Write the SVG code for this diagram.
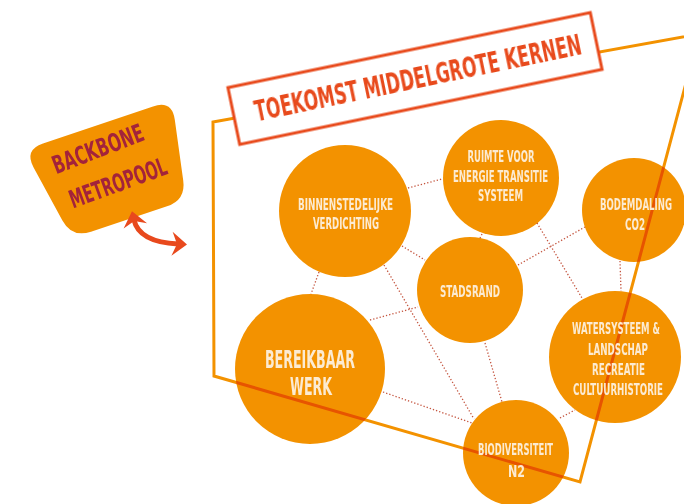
<svg xmlns="http://www.w3.org/2000/svg" width="684" height="504" viewBox="0 0 684 504">
<defs>
<style>
.node circle{fill:#f39200;mix-blend-mode:multiply}
.nt{font-family:"Liberation Sans Narrow","DejaVu Sans Condensed","Liberation Sans",sans-serif;font-weight:bold;fill:#fcebd2;text-anchor:middle}
.s{font-size:16px}
.l{font-size:24px}
.con line{stroke:#c4553f;stroke-width:1.3;stroke-dasharray:1.3 2}
.frame{fill:none;stroke:#f39200;stroke-width:3;stroke-linejoin:miter}
.title{font-family:"Liberation Sans Narrow","DejaVu Sans Condensed","Liberation Sans",sans-serif;font-weight:bold;font-size:28px;fill:#e84a1c;text-anchor:middle}
.bb{font-family:"Liberation Sans Narrow","DejaVu Sans Condensed","Liberation Sans",sans-serif;font-weight:bold;font-size:25px;fill:#a3233b;text-anchor:middle}
</style>
<marker id="ah" markerUnits="userSpaceOnUse" markerWidth="24" markerHeight="26" viewBox="-8 -13 20 26" refX="0" refY="0" orient="auto-start-reverse">
<path d="M9,0 L-6,-12 L-1,0 L-6,12 Z" fill="#e8491d"/>
</marker>
</defs>
<rect width="684" height="504" fill="#ffffff"/>

<path id="frame" class="frame" d="M213,122 L699,34 L580,482 L214,376 Z"/>

<g id="connectors" class="con">
<line x1="408" y1="188" x2="442" y2="179"/>
<line x1="402" y1="246" x2="425" y2="260"/>
<line x1="319" y1="272" x2="311" y2="294"/>
<line x1="384" y1="265" x2="474" y2="419"/>
<line x1="482" y1="234" x2="480" y2="238"/>
<line x1="537" y1="223" x2="582" y2="298"/>
<line x1="518" y1="265" x2="585" y2="227"/>
<line x1="370" y1="320" x2="418" y2="307"/>
<line x1="485" y1="343" x2="502" y2="402"/>
<line x1="620" y1="261" x2="621" y2="291"/>
<line x1="383" y1="392" x2="472" y2="423"/>
<line x1="560" y1="418" x2="575" y2="410"/>
</g>

<g id="binnenstedelijke" class="node">
<circle cx="345" cy="211" r="66"/>
<text class="nt s" x="345.5" y="210" textLength="95" lengthAdjust="spacingAndGlyphs">BINNENSTEDELIJKE</text>
<text class="nt s" x="346" y="229" textLength="66" lengthAdjust="spacingAndGlyphs">VERDICHTING</text>
</g>
<g id="ruimte" class="node">
<circle cx="501" cy="178" r="58"/>
<text class="nt s" x="501" y="162" textLength="67" lengthAdjust="spacingAndGlyphs">RUIMTE VOOR</text>
<text class="nt s" x="500.5" y="182" textLength="95" lengthAdjust="spacingAndGlyphs">ENERGIE TRANSITIE</text>
<text class="nt s" x="500.5" y="201" textLength="45" lengthAdjust="spacingAndGlyphs">SYSTEEM</text>
</g>
<g id="bodemdaling" class="node">
<circle cx="634" cy="210" r="52"/>
<text class="nt s" x="636" y="210" textLength="72" lengthAdjust="spacingAndGlyphs">BODEMDALING</text>
<text class="nt s" x="635" y="230" textLength="20" lengthAdjust="spacingAndGlyphs">CO2</text>
</g>
<g id="stadsrand" class="node">
<circle cx="470" cy="290" r="53"/>
<text class="nt s" x="470" y="297" textLength="60" lengthAdjust="spacingAndGlyphs">STADSRAND</text>
</g>
<g id="watersysteem" class="node">
<circle cx="615" cy="357" r="66"/>
<text class="nt s" x="616" y="334" textLength="88" lengthAdjust="spacingAndGlyphs">WATERSYSTEEM &amp;</text>
<text class="nt s" x="618" y="355" textLength="60" lengthAdjust="spacingAndGlyphs">LANDSCHAP</text>
<text class="nt s" x="618.5" y="375" textLength="53" lengthAdjust="spacingAndGlyphs">RECREATIE</text>
<text class="nt s" x="618" y="395" textLength="90" lengthAdjust="spacingAndGlyphs">CULTUURHISTORIE</text>
</g>
<g id="bereikbaar" class="node">
<circle cx="310" cy="369" r="75"/>
<text class="nt l" x="310" y="368" textLength="90" lengthAdjust="spacingAndGlyphs">BEREIKBAAR</text>
<text class="nt l" x="311" y="395" textLength="42" lengthAdjust="spacingAndGlyphs">WERK</text>
</g>
<g id="biodiversiteit" class="node">
<circle cx="516" cy="453" r="53"/>
<text class="nt s" x="515.5" y="455" textLength="75" lengthAdjust="spacingAndGlyphs">BIODIVERSITEIT</text>
<text class="nt s" x="516.5" y="477" textLength="17" lengthAdjust="spacingAndGlyphs">N2</text>
</g>

<g id="title">
<g transform="translate(415,78.5) rotate(-11.7)">
<rect x="-185" y="-29" width="370" height="58" fill="#ffffff" stroke="#e84a1c" stroke-width="3"/>
<text class="title" x="3" y="10" textLength="333" lengthAdjust="spacingAndGlyphs">TOEKOMST MIDDELGROTE KERNEN</text>
</g>
</g>

<g id="backbone">
<path d="M43,143.6 L153,106.4 Q172,100 174.8,119.8 L183.2,180.2 Q186,200 167,206.3 L91,231.7 Q72,238 62.4,220.4 L33.6,167.6 Q24,150 43,143.6 Z" fill="#f39200"/>
<text class="bb" transform="translate(101,157) rotate(-21)" textLength="96" lengthAdjust="spacingAndGlyphs">BACKBONE</text>
<text class="bb" transform="translate(121,191) rotate(-20)" textLength="102" lengthAdjust="spacingAndGlyphs">METROPOOL</text>
</g>

<g id="link">
<path d="M134,220 Q139,242 178,244" fill="none" stroke="#e8491d" stroke-width="5" marker-start="url(#ah)" marker-end="url(#ah)"/>
</g>
</svg>
